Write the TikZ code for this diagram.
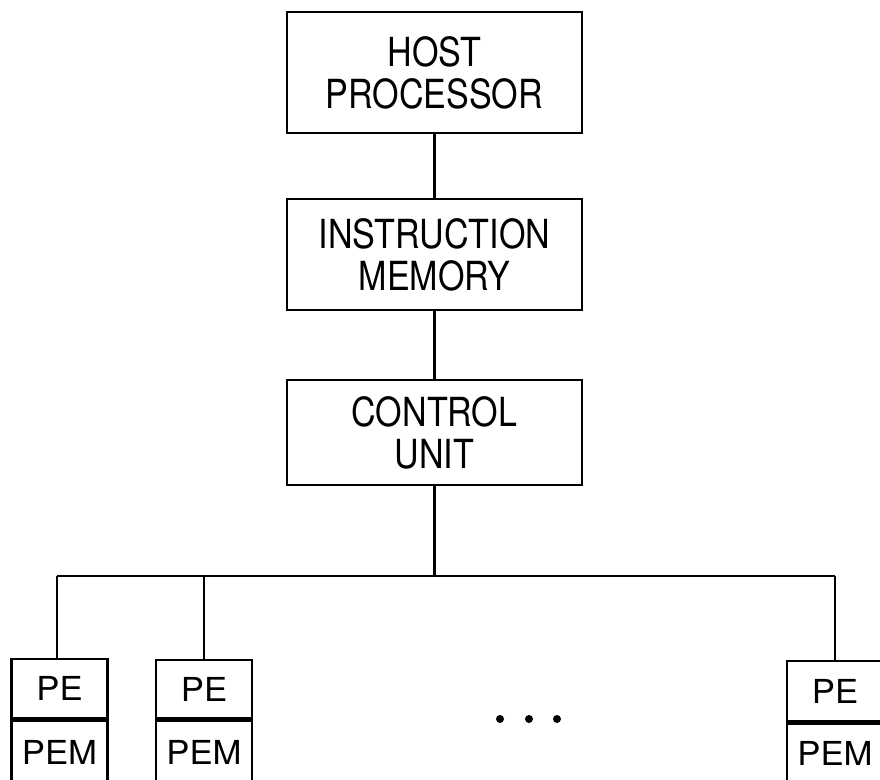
\documentclass[tikz,border=0pt]{standalone}
\usepackage{fontspec}
\setmainfont{TeX Gyre Heros}
\newfontfamily\unitfont{TeX Gyre Heros}[FakeStretch=0.85]
\newfontfamily\pefont{TeX Gyre Heros}[FakeStretch=1.05]

\begin{document}
\begin{tikzpicture}[x=0.025cm, y=-0.025cm,
  unit/.style={draw, line width=1.7pt, minimum width=7.375cm, align=center, inner sep=0pt,
    font=\unitfont\fontsize{28.5}{30}\selectfont},
  pebox/.style={draw, line width=1.7pt, minimum width=2.4cm, inner sep=0pt, anchor=north,
    font=\pefont\fontsize{23.5}{26}\selectfont},
  wire/.style={line width=1.7pt}
]
  \useasboundingbox (0,0) rectangle (880,780);

  % host, memory and control unit
  \node[unit, minimum height=3.025cm] (host) at (434.5,72.5) {HOST\\PROCESSOR};
  \node[unit, minimum height=2.775cm] (imem) at (434.5,254.5) {INSTRUCTION\\MEMORY};
  \node[unit, minimum height=2.625cm] (cu) at (434.5,432.5) {CONTROL\\UNIT};

  % processing elements
  \node[pebox, minimum height=1.475cm] (pe1) at (59.5,658) {PE};
  \node[pebox, minimum height=1.575cm] (pem1) at (pe1.south) {PEM};
  \node[pebox, minimum height=1.45cm] (pe2) at (204,659) {PE};
  \node[pebox, minimum height=1.575cm] (pem2) at (pe2.south) {PEM};
  \node[pebox, minimum height=1.5cm] (pe3) at (835,660) {PE};
  \node[pebox, minimum height=1.5cm] (pem3) at (pe3.south) {PEM};

  \coordinate (busL) at (57,576);
  \coordinate (busR) at (835,576);

  \draw[wire] (host) -- (imem);
  \draw[wire] (imem) -- (cu);
  \draw[wire] (cu.south) -- (cu.south |- busL);
  \draw[wire] (busL) -- (busR);
  \draw[wire] (busL) -- (busL |- pe1.north);
  \draw[wire] (pe2.north |- busL) -- (pe2.north);
  \draw[wire] (busR) -- (pe3.north);

  \foreach \x in {500,529,557}
    \fill (\x,719) circle (0.1cm);
\end{tikzpicture}
\end{document}
